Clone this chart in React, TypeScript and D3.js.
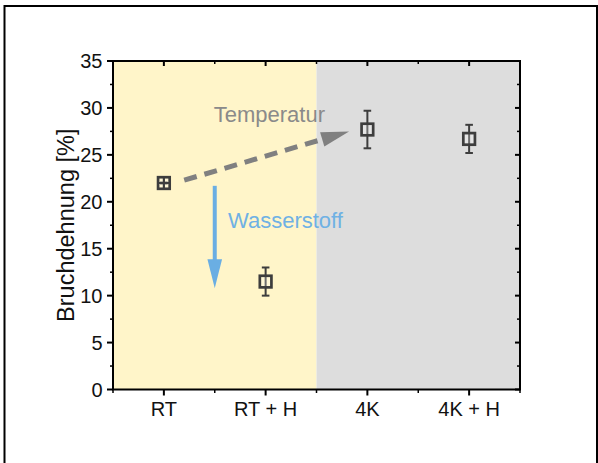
import React from "react";
import * as d3 from "d3";

const categories = ["RT", "RT + H", "4K", "4K + H"];
const values = [22.0, 11.5, 27.7, 26.7];
const errors = [0.05, 1.5, 2.0, 1.5];
const yTicks = [0, 5, 10, 15, 20, 25, 30, 35];
const yTitle = "Bruchdehnung [%]";
// annotation arrows in data coordinates (category index, value)
const tempArrow = { x1: 1.2, y1: 22.3, x2: 2.82, y2: 27.5, label: "Temperatur", lx: 1.49, ly: 28.45 };
const h2Arrow = { x1: 1.5, y1: 21.7, x2: 1.5, y2: 10.8, label: "Wasserstoff", lx: 1.63, ly: 17.2 };
// background regions (category index ranges)
const regions = [
  { from: 0.5, to: 2.5, color: "#fff5c9" },
  { from: 2.5, to: 4.5, color: "#dddddd" },
];

const W = 598;
const H = 463;
const left = 113, right = 520, top = 61, bottom = 389.5;
const FONT = "Arial, 'Liberation Sans', sans-serif";
const MARK = "#3d3d3d";

export default function App() {
  const x = d3.scaleLinear().domain([0.5, 4.5]).range([left, right]);
  const y = d3.scaleLinear().domain([0, 35]).range([bottom, top]);
  const majorX = d3.range(1, 5);
  const minorX = d3.range(0.5, 5, 1);
  const minorY = d3.range(2.5, 35, 5);
  const half = 5.8;

  // temperature arrow geometry
  const tx1 = x(tempArrow.x1), ty1 = y(tempArrow.y1), tx2 = x(tempArrow.x2), ty2 = y(tempArrow.y2);
  const ang = Math.atan2(ty2 - ty1, tx2 - tx1);
  const hl = 28, hw = 7.5;
  const bx = tx2 - hl * Math.cos(ang), by = ty2 - hl * Math.sin(ang);
  const px = -Math.sin(ang) * hw, py = Math.cos(ang) * hw;
  const tempHead = `M${tx2},${ty2}L${bx + px},${by + py}L${bx - px},${by - py}Z`;

  const hx = x(h2Arrow.x1), hy1 = y(h2Arrow.y1), hy2 = y(h2Arrow.y2);
  const hhl = 29, hhw = 7.3;
  const h2Head = `M${hx},${hy2}L${hx - hhw},${hy2 - hhl}L${hx + hhw},${hy2 - hhl}Z`;

  return (
    <svg width={W} height={H} style={{ position: "absolute", left: 0, top: 0, background: "#fff" }} fontFamily={FONT}>
      {/* outer frame */}
      <path d={`M4.5,${H + 2}V6H597V${H + 2}`} fill="none" stroke="#000" strokeWidth={2} />

      {regions.map((r, i) => (
        <rect key={i} x={x(r.from)} y={top} width={x(r.to) - x(r.from)} height={bottom - top} fill={r.color} />
      ))}

      {/* temperature arrow */}
      <line x1={tx1} y1={ty1} x2={bx} y2={by} stroke="#808080" strokeWidth={5} strokeDasharray="13,8" />
      <path d={tempHead} fill="#808080" />
      <text x={x(tempArrow.lx)} y={y(tempArrow.ly)} fontSize={22} fill="#8a8a8a">{tempArrow.label}</text>

      {/* hydrogen arrow */}
      <line x1={hx} y1={hy1} x2={hx} y2={hy2 - hhl + 1} stroke="#6aaee3" strokeWidth={4} />
      <path d={h2Head} fill="#6aaee3" />
      <text x={x(h2Arrow.lx)} y={y(h2Arrow.ly)} fontSize={22} fill="#6fb1e4">{h2Arrow.label}</text>

      {/* data points */}
      {values.map((v, i) => {
        const cx = x(i + 1), cy = y(v);
        const yt = y(v + errors[i]), yb = y(v - errors[i]);
        const vt = Math.min(yt, cy - half), vb = Math.max(yb, cy + half);
        return (
          <g key={i} stroke={MARK} strokeWidth={2}>
            <line x1={cx} x2={cx} y1={vt} y2={vb} />
            <line x1={cx - 3.8} x2={cx + 3.8} y1={yt} y2={yt} />
            <line x1={cx - 3.8} x2={cx + 3.8} y1={yb} y2={yb} />
            <rect x={cx - half} y={cy - half} width={half * 2} height={half * 2} fill="rgba(255,255,255,0.25)" strokeWidth={2.7} />
            {errors[i] < 0.5 && <line x1={cx} x2={cx} y1={cy - half} y2={cy + half} />}
            {errors[i] < 0.5 && <line x1={cx - half} x2={cx + half} y1={cy} y2={cy} />}
          </g>
        );
      })}

      {/* axes box */}
      <rect x={left} y={top} width={right - left} height={bottom - top} fill="none" stroke="#000" strokeWidth={2} />

      {yTicks.map((t) => (
        <g key={"yt" + t}>
          <line x1={left - 6} x2={left} y1={y(t)} y2={y(t)} stroke="#000" strokeWidth={2} />
          <line x1={right - 5} x2={right} y1={y(t)} y2={y(t)} stroke="#000" strokeWidth={2} />
          <text x={left - 10.5} y={y(t) + 7} fontSize={20} textAnchor="end" fill="#111">{t}</text>
        </g>
      ))}
      {minorY.map((t) => (
        <g key={"ym" + t}>
          <line x1={left - 3} x2={left} y1={y(t)} y2={y(t)} stroke="#000" strokeWidth={1.5} />
          <line x1={right - 3} x2={right} y1={y(t)} y2={y(t)} stroke="#000" strokeWidth={1.5} />
        </g>
      ))}
      {majorX.map((c, i) => (
        <g key={"xt" + c}>
          <line x1={x(c)} x2={x(c)} y1={bottom} y2={bottom + 6} stroke="#000" strokeWidth={2} />
          <line x1={x(c)} x2={x(c)} y1={top} y2={top + 5} stroke="#000" strokeWidth={2} />
          <text x={x(c)} y={bottom + 26.5} fontSize={20} textAnchor="middle" fill="#111">{categories[i]}</text>
        </g>
      ))}
      {minorX.map((c) => (
        <g key={"xm" + c}>
          <line x1={x(c)} x2={x(c)} y1={bottom} y2={bottom + 3.5} stroke="#000" strokeWidth={1.5} />
          <line x1={x(c)} x2={x(c)} y1={top} y2={top + 3} stroke="#000" strokeWidth={1.5} />
        </g>
      ))}

      <text transform={`translate(74,${(top + bottom) / 2}) rotate(-90)`} fontSize={23.5} textAnchor="middle" fill="#111">{yTitle}</text>
    </svg>
  );
}
